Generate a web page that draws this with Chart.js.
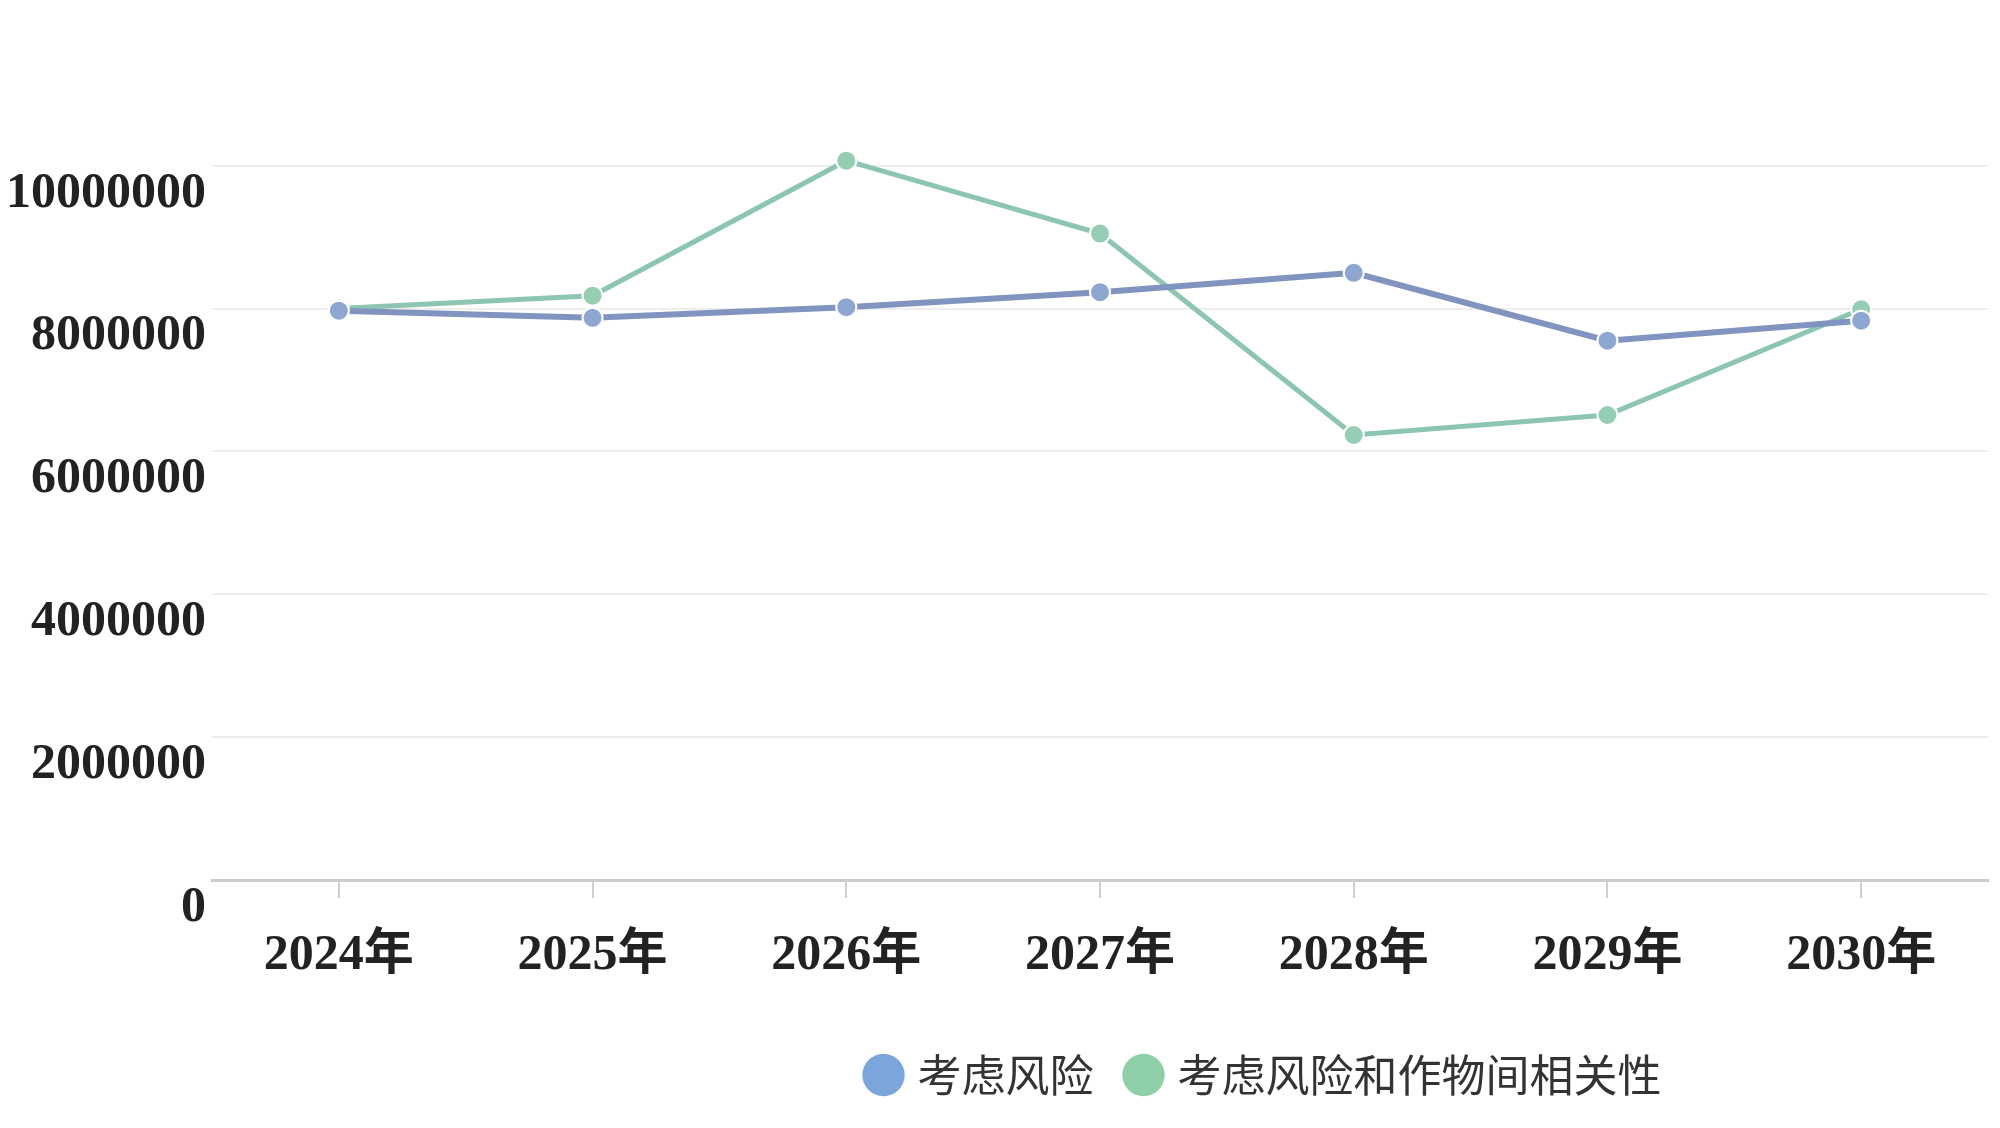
<!DOCTYPE html>
<html>
<head>
<meta charset="utf-8">
<script src="https://cdn.jsdelivr.net/npm/chart.js@4.4.0/dist/chart.umd.min.js"></script>
<style>
    html, body { margin: 0; padding: 0; background: #ffffff; }
    #wrap { width: 2000px; height: 1128px; position: relative; }
</style>
</head>
<body>
<div id="wrap"><canvas id="riskChart"></canvas></div>
<script>
// 年份与两条曲线
const years = ["2024年", "2025年", "2026年", "2027年", "2028年", "2029年", "2030年"];
const riskValues = [7970000, 7870000, 8020000, 8230000, 8500000, 7550000, 7830000];
const riskCorrValues = [8000000, 8180000, 10070000, 9050000, 6230000, 6510000, 7990000];
const yTicks = [0, 2000000, 4000000, 6000000, 8000000, 10000000];
const seriesNames = ["考虑风险", "考虑风险和作物间相关性"];
const legendColors = ["#7aa6dc", "#8fcfa8"];

// 图例整体向右偏移
const legendShift = {
    id: 'legendShift',
    afterLayout(chart) {
        chart.legend.left += 272;
        chart.legend.right += 272;
    }
};

const ctx = document.getElementById("riskChart").getContext("2d");
const riskChart = new Chart(ctx, {
    type: 'line',
    data: {
        labels: years,
        datasets: [{
            label: seriesNames[0],
            data: riskValues,
            borderColor: '#8094bf',
            backgroundColor: legendColors[0],
            pointBackgroundColor: '#8ea6d2',
            pointBorderColor: '#ffffff',
            pointBorderWidth: 2,
            pointRadius: 10,
            borderWidth: 6,
            tension: 0
        }, {
            label: seriesNames[1],
            data: riskCorrValues,
            borderColor: '#8cc5b2',
            backgroundColor: legendColors[1],
            pointBackgroundColor: '#95cdb5',
            pointBorderColor: '#ffffff',
            pointBorderWidth: 2,
            pointRadius: 10,
            borderWidth: 5,
            tension: 0
        }]
    },
    options: {
        responsive: true,
        maintainAspectRatio: false,
        animation: false,
        layout: {
            padding: { top: 130, right: 11, bottom: 21, left: 0 }
        },
        scales: {
            x: {
                offset: true,
                grid: {
                    drawOnChartArea: false,
                    drawTicks: true,
                    tickLength: 18,
                    color: '#cfcfcf',
                    lineWidth: 2
                },
                border: { display: true, color: '#cccccc', width: 3 },
                ticks: {
                    padding: 28,
                    color: '#222222',
                    font: { family: "'Liberation Serif', 'Noto Sans CJK SC'", size: 50, weight: 'bold' }
                },
                afterFit: function(axis) {
                    axis.height += 1;
                }
            },
            y: {
                min: 0,
                max: 10500000,
                border: { display: false },
                grid: {
                    drawTicks: false,
                    color: '#eeeeee',
                    lineWidth: 2
                },
                afterBuildTicks: function(axis) {
                    axis.ticks = yTicks.map(v => ({ value: v }));
                },
                ticks: {
                    padding: 6,
                    labelOffset: 28,
                    color: '#222222',
                    font: { family: "'Liberation Serif'", size: 50, weight: 'bold' },
                    callback: function(value) {
                        return String(value);
                    }
                }
            }
        },
        plugins: {
            legend: {
                display: true,
                position: 'bottom',
                labels: {
                    usePointStyle: true,
                    pointStyle: 'circle',
                    boxWidth: 24,
                    boxHeight: 30,
                    padding: 38,
                    color: '#333333',
                    font: { family: "'Noto Sans CJK SC'", size: 44 },
                    generateLabels: function(chart) {
                        const items = Chart.defaults.plugins.legend.labels.generateLabels(chart);
                        items.forEach((item, i) => {
                            item.fillStyle = legendColors[i];
                            item.strokeStyle = legendColors[i];
                            item.lineWidth = 0;
                        });
                        return items;
                    }
                }
            },
            tooltip: { enabled: false }
        }
    },
    plugins: [legendShift]
});
</script>
</body>
</html>
